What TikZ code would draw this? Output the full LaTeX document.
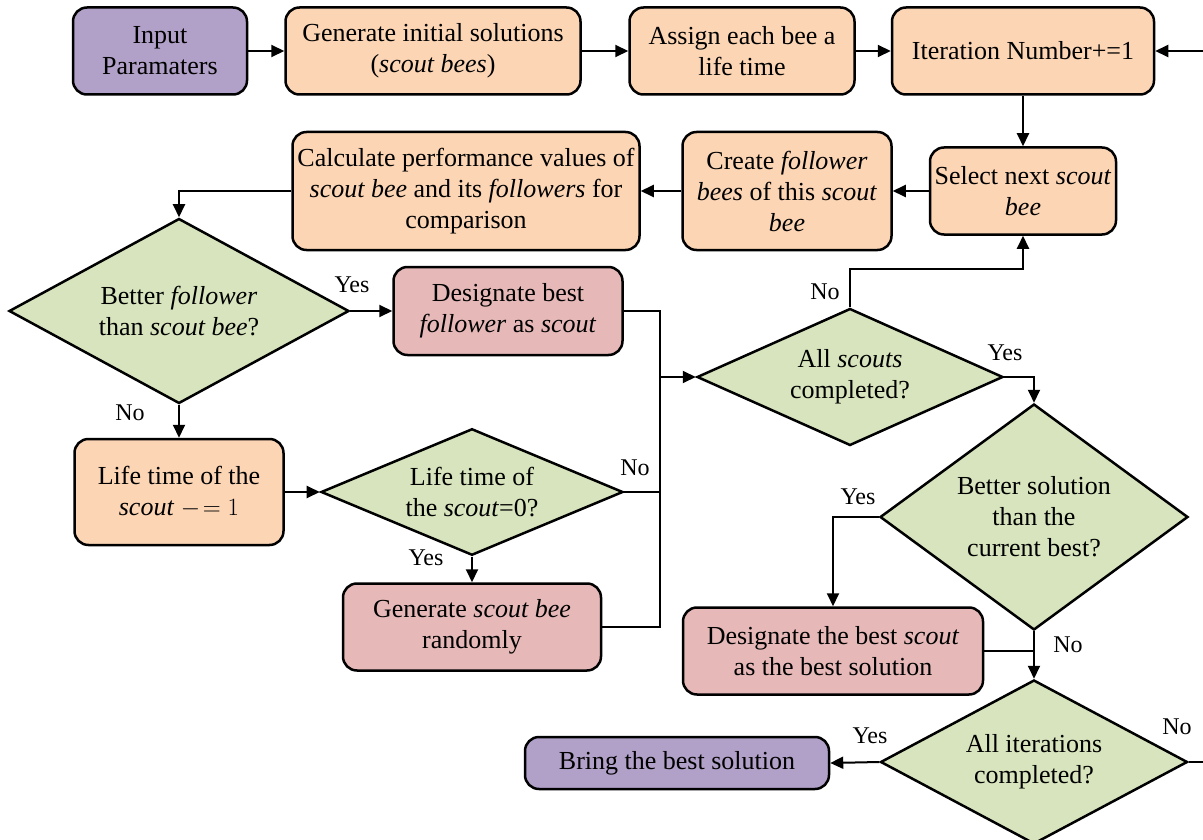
\documentclass[tikz,border=0pt]{standalone}
\usepackage{fontspec}
\setmainfont{Liberation Serif}
\usepackage{tikz}
\usetikzlibrary{shapes.geometric,arrows.meta}
\pgfdeclarelayer{edgelayer}
\pgfdeclarelayer{nodelayer}
\pgfsetlayers{edgelayer,nodelayer,main}
\definecolor{lilac}{HTML}{B1A0C7}
\definecolor{peach}{HTML}{FCD5B5}
\definecolor{sage}{HTML}{D7E4BD}
\definecolor{rose}{HTML}{E6B9B8}
\tikzstyle{box}=[rectangle, rounded corners=14pt, draw=black, line width=2.5pt, align=center, inner sep=0pt, font=\fontsize{26}{31}\selectfont]
\tikzstyle{inbox}=[box, fill=lilac]
\tikzstyle{stepbox}=[box, fill=peach]
\tikzstyle{markbox}=[box, fill=rose]
\tikzstyle{decision}=[diamond, draw=black, line width=2.5pt, fill=sage, align=center, inner sep=-14pt, font=\fontsize{26}{31}\selectfont]
\tikzstyle{answer}=[inner sep=0pt, font=\fontsize{24}{28}\selectfont]
\tikzstyle{edge}=[draw=black, line width=2pt]
\tikzstyle{arrowedge}=[draw=black, line width=2pt, -{Triangle[length=13pt,width=12pt]}]

\begin{document}
\begin{tikzpicture}[x=1pt, y=-1pt]
	\useasboundingbox (0, 0) rectangle (1203, 840);
	\begin{pgfonlayer}{nodelayer}
		\begin{scope}
		\clip (0, 0) rectangle (1203, 840);
		\node [style=inbox, minimum width=174pt, minimum height=87pt] (1) at (160, 51) {Input\\Paramaters};
		\node [style=stepbox, minimum width=295pt, minimum height=87pt] (2) at (433, 51) {Generate initial solutions\\(\textit{scout bees})};
		\node [style=stepbox, minimum width=225pt, minimum height=87pt] (3) at (742, 51) {Assign each bee a\\life time};
		\node [style=stepbox, minimum width=262pt, minimum height=87pt] (4) at (1023, 51) {Iteration Number+=1};
		\node [style=stepbox, minimum width=186pt, minimum height=87pt] (5) at (1023, 191) {Select next \textit{scout}\\\textit{bee}};
		\node [style=stepbox, minimum width=209pt, minimum height=118pt] (6) at (787, 191) {Create \textit{follower}\\\textit{bees} of this \textit{scout}\\\textit{bee}};
		\node [style=stepbox, minimum width=347pt, minimum height=118pt] (7) at (466, 191) {Calculate performance values of\\\textit{scout bee} and its \textit{followers} for\\comparison};
		\node [style=decision, minimum width=340pt, minimum height=185pt] (8) at (179, 311) {Better \textit{follower}\\than \textit{scout bee}?};
		\node [style=markbox, minimum width=229pt, minimum height=88pt] (9) at (508, 311) {Designate best\\\textit{follower} as \textit{scout}};
		\node [style=stepbox, minimum width=209pt, minimum height=106pt] (10) at (179, 492) {Life time of the\\\textit{scout} $-\!=1$};
		\node [style=decision, minimum width=302pt, minimum height=111pt] (11) at (472, 492) {Life time of\\the \textit{scout}=0?};
		\node [style=markbox, minimum width=258pt, minimum height=87pt] (12) at (472, 627) {Generate \textit{scout bee}\\randomly};
		\node [style=decision, minimum width=306pt, minimum height=137pt] (13) at (850, 377) {All \textit{scouts}\\completed?};
		\node [style=decision, minimum width=308pt, minimum height=226pt] (14) at (1034, 517) {Better solution\\than the\\current best?};
		\node [style=markbox, minimum width=300pt, minimum height=87pt] (15) at (833, 651) {Designate the best \textit{scout}\\as the best solution};
		\node [style=decision, minimum width=307pt, minimum height=164pt] (16) at (1034, 762) {All iterations\\completed?};
		\node [style=inbox, minimum width=304pt, minimum height=52pt] (17) at (677, 763) {Bring the best solution};
		\node [style=answer] (y1) at (352, 285) {Yes};
		\node [style=answer] (n1) at (130, 413) {No};
		\node [style=answer] (n2) at (635, 468) {No};
		\node [style=answer] (y2) at (426, 558) {Yes};
		\node [style=answer] (n3) at (825, 292) {No};
		\node [style=answer] (y3) at (1005, 353) {Yes};
		\node [style=answer] (y4) at (858, 497) {Yes};
		\node [style=answer] (n4) at (1068, 645) {No};
		\node [style=answer] (y5) at (870, 736) {Yes};
		\node [style=answer] (n5) at (1177, 727) {No};
		\end{scope}
	\end{pgfonlayer}
	\begin{pgfonlayer}{edgelayer}
		\begin{scope}
		\clip (0, 0) rectangle (1203, 840);
		\coordinate (j) at (660, 377);
		\coordinate (back) at (1216, 51);
		\draw [style=arrowedge] (1) to (2);
		\draw [style=arrowedge] (2) to (3);
		\draw [style=arrowedge] (3) to (4);
		\draw [style=arrowedge] (4) to (5);
		\draw [style=arrowedge] (5) to (6);
		\draw [style=arrowedge] (6) to (7);
		\draw [style=arrowedge] (7.west) -| (8.north);
		\draw [style=arrowedge] (8) to (9);
		\draw [style=arrowedge] (8) to (10);
		\draw [style=arrowedge] (10) to (11);
		\draw [style=arrowedge] (11) to (12);
		\draw [style=edge] (9.east) -| (j);
		\draw [style=edge] (11.east) -| (j);
		\draw [style=edge] (12.east) -| (j);
		\draw [style=arrowedge] (j) to (13.west);
		\draw [style=arrowedge] (13.north) -- ++(0, -38) -| (5.south);
		\draw [style=arrowedge] (13.east) -| (14.north);
		\draw [style=arrowedge] (14.west) -| (15.north);
		\draw [style=arrowedge] (14.south) to (16.north);
		\draw [style=edge] (15.east) -- (15.east -| 14.south);
		\draw [style=arrowedge] (16.west) to (17.east);
		\draw [style=arrowedge] (16.east) -| (back) -- (4.east);
		\end{scope}
	\end{pgfonlayer}
\end{tikzpicture}
\end{document}
